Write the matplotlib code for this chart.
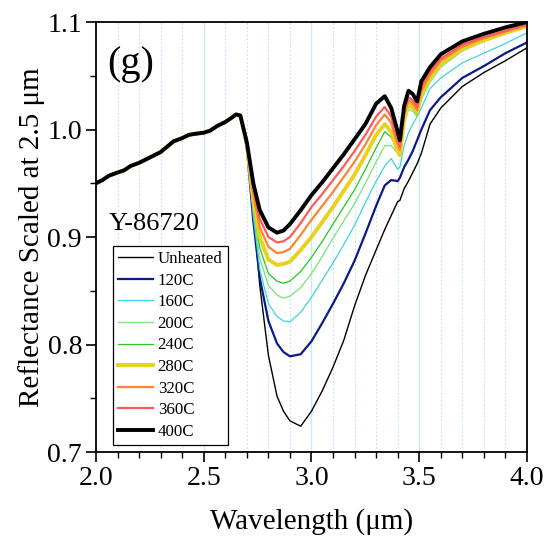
import numpy as np
import matplotlib
matplotlib.use("Agg")
import matplotlib.pyplot as plt
from matplotlib.ticker import MultipleLocator

plt.rcParams['font.family'] = ['Liberation Serif', 'DejaVu Serif']
plt.rcParams['mathtext.fontset'] = 'stix'

# DATA
# region below 2.67 um where all spectra overlap
wl_common = [2.00, 2.03, 2.06, 2.10, 2.13, 2.16, 2.20, 2.23, 2.26, 2.30, 2.33,
             2.36, 2.40, 2.43, 2.46, 2.50, 2.53, 2.56, 2.60, 2.63, 2.65, 2.67]
r_common = [0.950, 0.953, 0.957, 0.960, 0.962, 0.966, 0.969, 0.972, 0.975, 0.979, 0.984,
            0.989, 0.992, 0.995, 0.996, 0.997, 0.999, 1.003, 1.007, 1.011, 1.014, 1.013]

# band region, each heating step on the same wavelength grid
wl_band = [2.70, 2.73, 2.76, 2.80, 2.84, 2.87, 2.90, 2.95, 3.00, 3.05, 3.10, 3.15, 3.20, 3.25, 3.30,
           3.34, 3.37, 3.40, 3.41, 3.43, 3.45, 3.47, 3.49, 3.51, 3.55, 3.60, 3.70, 3.80, 3.90, 4.00]

r_unheated = [0.982, 0.925, 0.855, 0.790, 0.752, 0.738, 0.729, 0.724, 0.738, 0.757, 0.779, 0.804, 0.836, 0.864, 0.888,
              0.907, 0.920, 0.933, 0.934, 0.945, 0.952, 0.960, 0.968, 0.978, 1.005, 1.020, 1.040, 1.053, 1.064, 1.076]
r_120 = [0.983, 0.915, 0.862, 0.822, 0.801, 0.793, 0.789, 0.791, 0.803, 0.820, 0.838, 0.857, 0.878, 0.903, 0.929,
         0.948, 0.953, 0.952, 0.955, 0.965, 0.972, 0.980, 0.990, 1.000, 1.018, 1.030, 1.048, 1.059, 1.071, 1.081]
r_160 = [0.984, 0.920, 0.870, 0.838, 0.826, 0.822, 0.821, 0.830, 0.844, 0.860, 0.876, 0.893, 0.911, 0.932, 0.952,
         0.966, 0.973, 0.963, 0.965, 0.985, 0.997, 1.005, 1.012, 1.020, 1.038, 1.048, 1.062, 1.071, 1.080, 1.090]
r_200 = [0.985, 0.925, 0.880, 0.855, 0.846, 0.843, 0.845, 0.853, 0.866, 0.882, 0.899, 0.915, 0.931, 0.950, 0.970,
         0.985, 0.985, 0.978, 0.976, 1.005, 1.019, 1.017, 1.012, 1.028, 1.044, 1.058, 1.073, 1.082, 1.089, 1.096]
r_240 = [0.985, 0.930, 0.890, 0.866, 0.859, 0.857, 0.859, 0.868, 0.881, 0.896, 0.912, 0.928, 0.944, 0.963, 0.983,
         0.998, 0.993, 0.980, 0.977, 1.008, 1.022, 1.019, 1.014, 1.031, 1.047, 1.060, 1.074, 1.083, 1.090, 1.097]
r_280 = [0.986, 0.935, 0.900, 0.879, 0.874, 0.875, 0.877, 0.888, 0.900, 0.914, 0.928, 0.943, 0.958, 0.976, 0.995,
         1.005, 0.998, 0.980, 0.976, 1.010, 1.024, 1.021, 1.016, 1.033, 1.048, 1.061, 1.075, 1.083, 1.090, 1.096]
r_320 = [0.987, 0.940, 0.909, 0.891, 0.885, 0.886, 0.889, 0.902, 0.916, 0.929, 0.942, 0.956, 0.970, 0.986, 1.004,
         1.014, 1.006, 0.986, 0.981, 1.014, 1.027, 1.024, 1.018, 1.036, 1.051, 1.064, 1.077, 1.085, 1.091, 1.097]
r_360 = [0.988, 0.945, 0.917, 0.900, 0.895, 0.896, 0.900, 0.913, 0.928, 0.940, 0.953, 0.966, 0.980, 0.995, 1.012,
         1.021, 1.012, 0.990, 0.984, 1.018, 1.030, 1.027, 1.021, 1.040, 1.054, 1.066, 1.079, 1.086, 1.092, 1.098]
r_400 = [0.988, 0.950, 0.925, 0.909, 0.904, 0.906, 0.912, 0.925, 0.939, 0.951, 0.964, 0.977, 0.991, 1.005, 1.024,
         1.031, 1.020, 0.998, 0.990, 1.022, 1.036, 1.033, 1.026, 1.045, 1.058, 1.070, 1.082, 1.089, 1.095, 1.100]

labels = ["Unheated", "120C", "160C", "200C", "240C", "280C", "320C", "360C", "400C"]
spectra = [r_unheated, r_120, r_160, r_200, r_240, r_280, r_320, r_360, r_400]

# STYLES
colors = ["black", "#0a1a8a", "#3fd3e0", "#7fe87f", "#1fcc1f", "#e8d21e", "#ff8432", "#ff5a5a", "black"]
widths = [1.0, 1.6, 0.9, 1.0, 0.9, 2.8, 1.6, 1.6, 2.8]

fig = plt.figure(figsize=(5.47, 5.53), dpi=100)
ax = fig.add_axes([0.1755, 0.1826, 0.7879, 0.7776])

# vertical grid: dotted every 0.1, solid every 0.5
for g in np.arange(2.1, 4.0, 0.1):
    if abs(g * 2 - round(g * 2)) < 1e-6:
        ax.axvline(g, color="#cfe6f7", lw=1.0, zorder=0)
    else:
        ax.axvline(g, color="#bfe0f7", lw=0.8, ls=(0, (1.5, 2)), zorder=0)

wl = np.array(wl_common + wl_band)
for lab, r, c, w in zip(labels, spectra, colors, widths):
    ax.plot(wl, r_common + r, color=c, lw=w, label=lab, zorder=2)

ax.set_xlim(2.0, 4.0)
ax.set_ylim(0.7, 1.1)
ax.xaxis.set_major_locator(MultipleLocator(0.5))
ax.xaxis.set_minor_locator(MultipleLocator(0.1))
ax.yaxis.set_major_locator(MultipleLocator(0.1))
ax.yaxis.set_minor_locator(MultipleLocator(0.05))
ax.xaxis.set_major_formatter(matplotlib.ticker.FormatStrFormatter("%.1f"))
ax.yaxis.set_major_formatter(matplotlib.ticker.FormatStrFormatter("%.1f"))
ax.tick_params(which="major", direction="out", length=7, width=1.2, labelsize=20, pad=3)
ax.tick_params(which="minor", direction="out", length=4, width=1.0)
for s in ax.spines.values():
    s.set_linewidth(1.3)

ax.set_xlabel("Wavelength (\u03bcm)", fontsize=21, labelpad=12)
ax.set_ylabel("Reflectance Scaled at 2.5 \u03bcm", fontsize=21, labelpad=2)

ax.text(0.025, 0.945, "(g)", transform=ax.transAxes, fontsize=29, va="top")
ax.text(0.03, 0.555, "Y-86720", transform=ax.transAxes, fontsize=19, va="top")

leg = ax.legend(loc="upper left", bbox_to_anchor=(0.039, 0.479), fontsize=12.2,
                frameon=True, fancybox=False, edgecolor="black", framealpha=1,
                handlelength=2.1, handletextpad=0.25, labelspacing=0.33,
                borderpad=0.3, borderaxespad=0)
leg.get_frame().set_linewidth(0.9)

fig.savefig("out.png", dpi=100)
